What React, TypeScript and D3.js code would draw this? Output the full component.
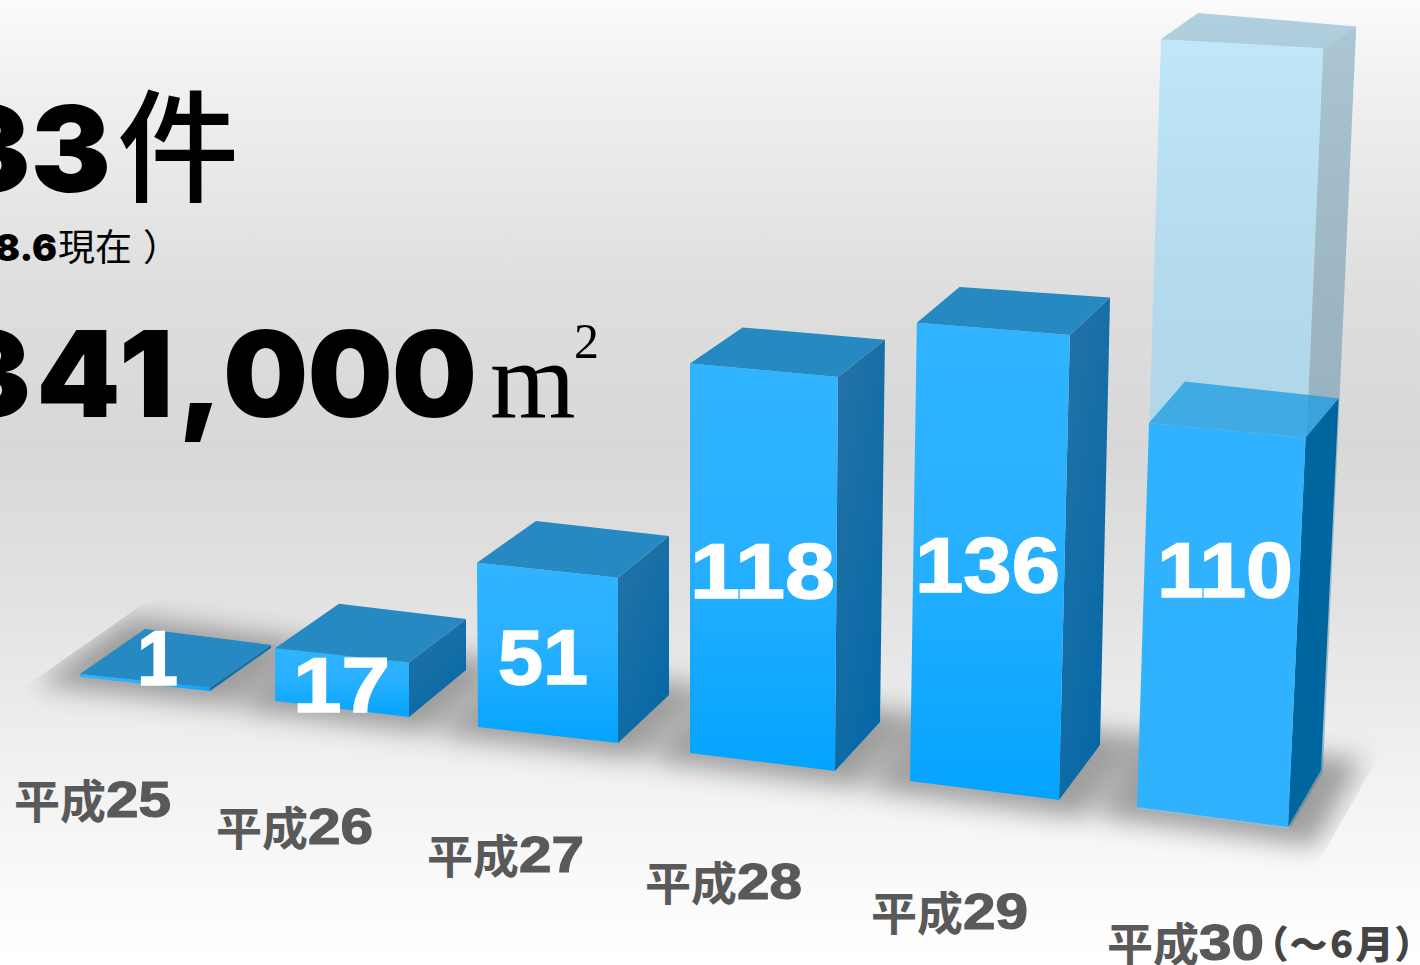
import React from "react";
import * as d3 from "d3";

// Completed building-permit counts per fiscal year
const years = ["25", "26", "27", "28", "29", "30"];
const counts = [1, 17, 51, 118, 136, 110];
const projectedCount = 220;
const totalCount = "433";
const totalAreaThousands = "341,";
const totalAreaUnits = "000";

type Pt = [number, number];

const idx = d3.range(6);
const track = (r: number[]) => d3.scaleLinear().domain(idx).range(r);

// Perspective of the floor: each corner of a bar footprint along the row,
// with how far it rises and leans per counted unit.
const corners = {
  fl: { x: track([80, 275, 478, 690, 910, 1137]), y: track([677, 701, 727, 753, 781, 807]), rise: track([3.1, 3.1, 3.22, 3.3, 3.37, 3.49]), lean: track([0, 0, -0.02, 0, 0.05, 0.109]) },
  fr: { x: track([210, 409, 618, 835, 1059, 1288]), y: track([691, 717, 743, 771, 800, 827]), rise: track([3.2, 3.2, 3.24, 3.34, 3.42, 3.54]), lean: track([0, 0, 0, 0.025, 0.08, 0.16]) },
  br: { x: track([271, 466, 669, 880, 1100, 1321]), y: track([648, 670, 695, 722, 745, 770]), rise: track([3, 3, 3.12, 3.24, 3.29, 3.38]), lean: track([0, 0, 0, 0.042, 0.074, 0.16]) },
  bl: { x: track([145, 339, 536, 739, 950, 1172]), y: track([632, 654, 679, 705, 729, 750]), rise: track([3, 2.95, 3.1, 3.2, 3.25, 3.35]), lean: track([0, 0, 0, 0.03, 0.07, 0.118]) },
};
type CornerKey = keyof typeof corners;

const at = (i: number, c: CornerKey, v: number, nudge = 0): Pt => {
  const k = corners[c];
  return [k.x(i) + v * k.lean(i) + nudge, k.y(i) - v * k.rise(i)];
};

const ring = d3.line<Pt>().curve(d3.curveLinearClosed);
const face = (i: number, a: CornerKey, b: CornerKey, v0: number, v1: number, baseNudge = 0) =>
  ring([at(i, a, v0, baseNudge), at(i, b, v0, baseNudge), at(i, b, v1), at(i, a, v1)]) as string;
const topFace = (i: number, v: number) =>
  ring([at(i, "fl", v), at(i, "fr", v), at(i, "br", v), at(i, "bl", v)]) as string;

// Soft floor shadow: the footprint grown about its centre
const shadowPath = (i: number) => {
  const pts: Pt[] = (["fl", "fr", "br", "bl"] as CornerKey[]).map((c) => at(i, c, 0));
  const [cx, cy] = d3.polygonCentroid(pts);
  return ring(pts.map(([x, y]) => [cx + (x - cx) * 1.45, cy + (y - cy) * 1.5] as Pt)) as string;
};

// Placement of the value captions and year captions along the row
const valueX = track([157.5, 341.5, 543, 762.5, 987.5, 1225]);
const valueY = track([685, 712, 684, 598, 592, 597]);
const valueW = track([41, 97, 90, 145, 145, 136]);
const yearX = track([14, 216, 427, 645, 871, 1107]);
const yearY = track([818, 845, 873, 900, 930, 961]);

const latin = "'Liberation Sans', Arial, sans-serif";
const heavy = "Inter, Roboto, 'Liberation Sans', sans-serif";
const cjk = "'Noto Sans CJK JP', sans-serif";
const serif = "'Liberation Serif', serif";

export default function App() {
  const last = years.length - 1;
  return (
    <svg
      width={1420}
      height={965}
      viewBox="0 0 1420 965"
      style={{ position: "absolute", left: 0, top: 0, display: "block" }}
    >
      <defs>
        <linearGradient id="backdrop" x1="0" y1="0" x2="0" y2="1">
          <stop offset="0" stopColor="#fbfbfb" />
          <stop offset="0.08" stopColor="#f1f1f1" />
          <stop offset="0.3" stopColor="#dedede" />
          <stop offset="0.46" stopColor="#d8d8d8" />
          <stop offset="0.62" stopColor="#e2e2e2" />
          <stop offset="0.8" stopColor="#f1f1f1" />
          <stop offset="0.93" stopColor="#fbfbfb" />
          <stop offset="1" stopColor="#ffffff" />
        </linearGradient>
        <linearGradient id="frontFace" x1="0" y1="0" x2="0" y2="1">
          <stop offset="0" stopColor="#30b4ff" />
          <stop offset="0.45" stopColor="#29b0ff" />
          <stop offset="1" stopColor="#03a4ff" />
        </linearGradient>
        <linearGradient id="sideFace" x1="0" y1="0" x2="0.6" y2="1">
          <stop offset="0" stopColor="#2574a6" />
          <stop offset="1" stopColor="#0768a6" />
        </linearGradient>
        <filter id="soft" x="-40%" y="-60%" width="180%" height="220%">
          <feGaussianBlur stdDeviation="13" />
        </filter>
        <clipPath id="floorEdge">
          <polygon points="26,686 140,606 260,570 1420,680 1372,768 1322,856 1280,930 60,800" />
        </clipPath>
      </defs>

      <rect width={1420} height={965} fill="url(#backdrop)" />

      {/* floor shadows, merged so overlaps do not darken */}
      <g clipPath="url(#floorEdge)" opacity={0.68}>
        <g filter="url(#soft)" fill="#777">
          {counts.map((_, i) => (
            <path key={i} d={shadowPath(i)} />
          ))}
        </g>
      </g>

      {/* year-end projection behind the current bar */}
      <g>
        <path d={face(last, "fr", "br", -0.5, projectedCount, 2)} fill="rgb(47,113,151)" fillOpacity={0.37} />
        <path d={face(last, "fl", "fr", -0.5, projectedCount, 1)} fill="rgb(120,210,255)" fillOpacity={0.43} />
        <path d={topFace(last, projectedCount)} fill="rgb(44,132,175)" fillOpacity={0.35} />
      </g>

      {/* bars */}
      {counts.map((v, i) => {
        const current = i === last;
        return (
          <g key={years[i]}>
            <path d={face(i, "fr", "br", 0, v)} fill={current ? "#00669f" : "url(#sideFace)"} />
            <path d={face(i, "fl", "fr", 0, v)} fill={current ? "#30b2ff" : "url(#frontFace)"} />
            <path
              d={topFace(i, v)}
              fill={current ? "rgb(35,159,225)" : "#2789c1"}
              fillOpacity={current ? 0.8 : 1}
            />
          </g>
        );
      })}

      {/* value captions */}
      {counts.map((v, i) => (
        <text
          key={i}
          x={valueX(i)}
          y={valueY(i)}
          textAnchor="middle"
          textLength={valueW(i)}
          lengthAdjust="spacingAndGlyphs"
          fontFamily={latin}
          fontWeight={700}
          fontSize={77}
          fill="#fff"
          stroke="#fff"
          strokeWidth={1.5}
        >
          {v}
        </text>
      ))}

      {/* year captions */}
      {years.map((y, i) => (
        <g key={y} fill="#595959">
          <text x={yearX(i)} y={yearY(i)} fontFamily={cjk} fontWeight={700} fontSize={46}>
            平成
          </text>
          <text
            x={yearX(i) + 92}
            y={yearY(i) - 1}
            textLength={65}
            lengthAdjust="spacingAndGlyphs"
            fontFamily={latin}
            fontWeight={700}
            fontSize={50}
            stroke="#595959"
            strokeWidth={1.2}
          >
            {y}
          </text>
        </g>
      ))}
      <text
        x={1268}
        y={958}
        fontFamily={cjk}
        fontWeight={900}
        fontSize={38}
        fill="#444"
        style={{ fontFeatureSettings: "'palt'" }}
        textLength={147}
        lengthAdjust="spacing"
      >
        （～6月）
      </text>

      {/* running totals */}
      <g fill="#000">
        <text x={111} y={192} textAnchor="end" fontFamily={heavy} fontWeight={900} fontSize={120}>
          {totalCount}
        </text>
        <text x={117} y={192} fontFamily={cjk} fontWeight={500} fontSize={122}>
          件
        </text>
        <text x={57} y={261} textAnchor="end" fontFamily={heavy} fontWeight={900} fontSize={37}>
          8.6
        </text>
        <text x={58} y={261} fontFamily={cjk} fontWeight={400} fontSize={37}>
          現在<tspan dx={11}>）</tspan>
        </text>
        <text x={228} y={417} textAnchor="end" fontFamily={heavy} fontWeight={900} fontSize={120} letterSpacing={5}>
          {totalAreaThousands}
        </text>
        <text x={476} y={417} textAnchor="end" fontFamily={heavy} fontWeight={900} fontSize={120} letterSpacing={-1}>
          {totalAreaUnits}
        </text>
        <text x={490} y={417} fontFamily={serif} fontSize={110}>
          m
        </text>
        <text x={574} y={358} fontFamily={serif} fontSize={50}>
          2
        </text>
      </g>
    </svg>
  );
}
